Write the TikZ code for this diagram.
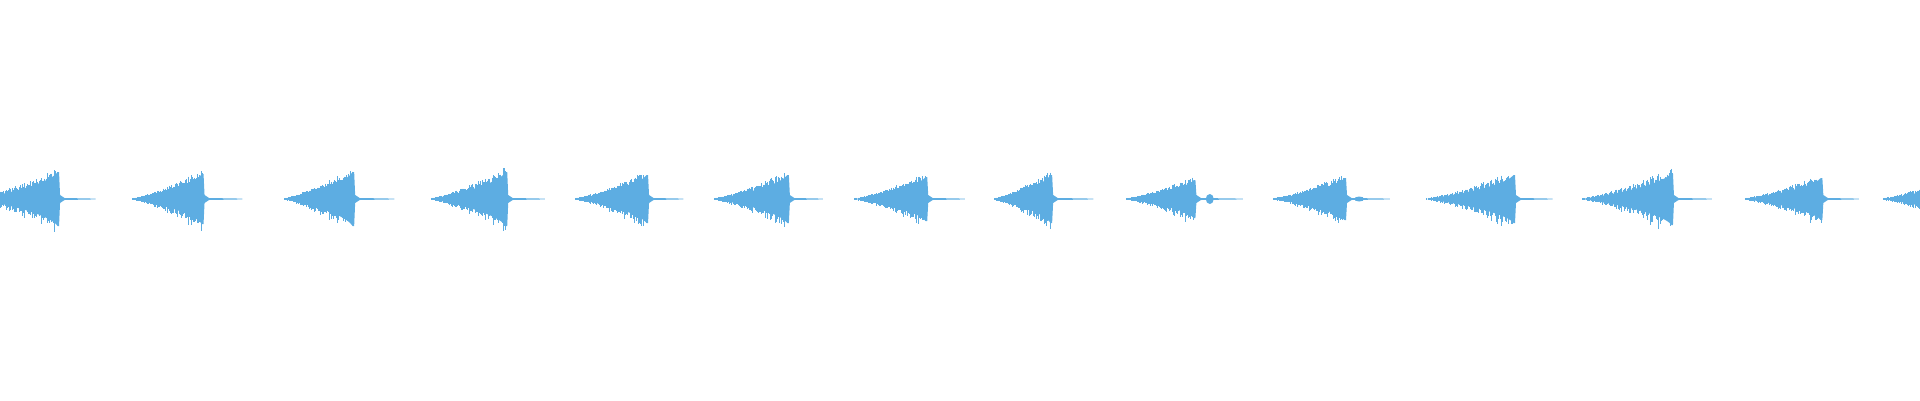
\documentclass[tikz,border=0pt]{standalone}
\definecolor{wavec}{HTML}{5DADE2}
\tikzset{wave/.style={fill=wavec,draw=wavec}}
\newcommand\burst[4]{%
 \pgfmathsetmacro\bs{#1*1.2245}\pgfmathsetmacro\bp{#2*1.2245}\pgfmathsetmacro\bt{#3*1.2245}%
 \fill[wavec] (\bs,199) .. controls ({\bs+0.6*(\bp-\bs)},{199-0.3*#4}) and ({\bp-5},{199-0.7*#4}) .. (\bp,{199-#4}) -- ({\bp+1.5},{199-#4}) -- ({\bp+2.5},195) -- ({\bp+7},198) -- (\bt,198.6) -- (\bt,199.4) -- ({\bp+7},200) -- ({\bp+2.5},203) -- ({\bp+1.5},{199+#4}) -- (\bp,{199+#4}) .. controls ({\bp-5},{199+0.7*#4}) and ({\bs+0.6*(\bp-\bs)},{199+0.3*#4}) .. cycle;
 \foreach \k in {0,...,70}{%
  \pgfmathsetmacro\xx{\bs+(\bp-\bs)*\k/70}%
  \pgfmathsetmacro\aa{#4*(\k/70)^1.3*(0.8+0.35*rnd)+1}%
  \pgfmathsetmacro\bb{\aa*(0.8+0.4*rnd)}%
  \draw[wavec,line width=0.5pt] (\xx,{199-\aa}) -- (\xx,{199+\bb});}%
}
\begin{document}
\begin{tikzpicture}[x=1pt,y=-1pt]
\useasboundingbox (0,0) rectangle (1920,400);
\pgfmathsetseed{7}
\burst{-20}{47}{78}{27}
\burst{108}{165}{198}{25}
\burst{232}{288}{322}{27}
\burst{352}{413}{445}{27}
\burst{470}{528}{558}{24}
\burst{583}{643}{672}{24}
\burst{698}{756}{788}{22}
\burst{812}{858}{893}{24}
\burst{920}{975}{1015}{19}
\burst{1040}{1098}{1135}{21}
\burst{1165}{1236}{1268}{24}
\burst{1292}{1365}{1398}{26}
\burst{1425}{1487}{1518}{21}
\burst{1538}{1600}{1640}{22}
\fill[wavec] ({988*1.2245},199) ellipse (4 and 5);
\fill[wavec] ({1110*1.2245},199) ellipse (5 and 2.5);
\end{tikzpicture}
\end{document}
